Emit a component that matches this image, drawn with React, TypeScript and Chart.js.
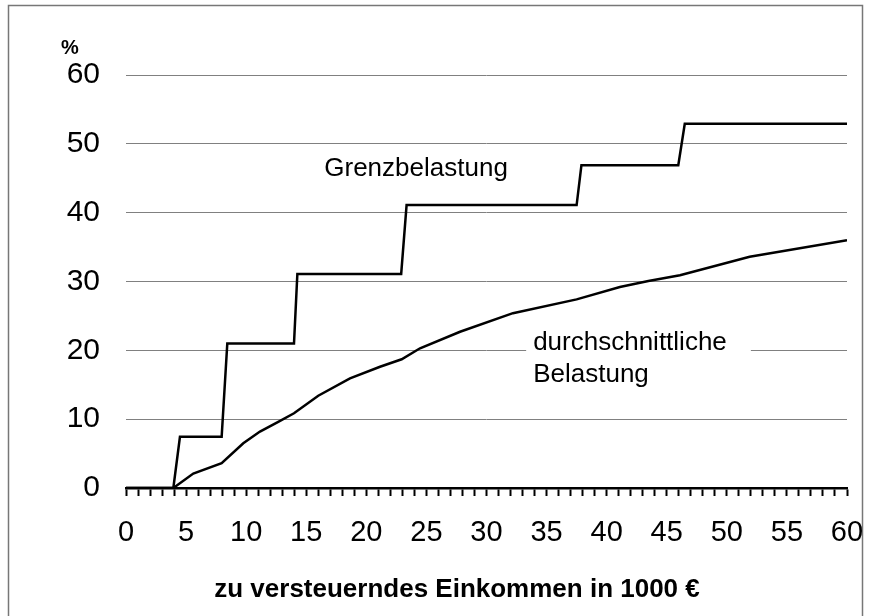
import React, { useEffect, useRef } from "react";
import { Chart, registerables } from "chart.js";

Chart.register(...registerables);

// Marginal tax rate (Grenzbelastung), income in 1000 €
const marginalX = [0, 3.94, 4.49, 7.96, 8.43, 13.98, 14.26, 22.9, 23.35, 37.5, 37.9, 45.96, 46.5, 60];
const marginalY = [0, 0, 7.45, 7.45, 21.0, 21.0, 31.1, 31.1, 41.1, 41.1, 46.9, 46.9, 52.9, 52.9];

// Average tax rate (durchschnittliche Belastung)
const averageX = [0, 3.94, 5.6, 7.96, 9.76, 11.15, 12.67, 13.98, 16, 18.64, 21.14, 22.94, 24.47, 27.8, 32.2, 37.5, 41.1, 43.47, 46.1, 51.9, 60];
const averageY = [0, 0, 2.1, 3.6, 6.5, 8.2, 9.6, 10.85, 13.4, 15.93, 17.62, 18.7, 20.3, 22.7, 25.4, 27.4, 29.2, 30.07, 30.9, 33.6, 36.0];

const xMin = 0;
const xMax = 60;
const yMin = 0;
const yMax = 60;
const yStep = 10;
const xLabelStep = 5;

const xTitle = "zu versteuerndes Einkommen in 1000 €";
const yUnit = "%";
const labelMarginal = "Grenzbelastung";
const labelAverage = ["durchschnittliche", "Belastung"];

const FONT = "'Liberation Sans', Arial, sans-serif";

const framePlugin = {
  id: "frame",
  beforeDraw(chart: any) {
    const ctx = chart.ctx;
    ctx.save();
    ctx.strokeStyle = "#777777";
    ctx.lineWidth = 1.5;
    ctx.beginPath();
    ctx.moveTo(8.5, 700);
    ctx.lineTo(8.5, 5.5);
    ctx.lineTo(862.5, 5.5);
    ctx.lineTo(862.5, 700);
    ctx.stroke();
    ctx.restore();
  },
};

const annotationPlugin = {
  id: "annotations",
  afterDraw(chart: any) {
    const ctx = chart.ctx;
    const xs = chart.scales.x;
    const ys = chart.scales.y;
    ctx.save();
    ctx.fillStyle = "#000";
    ctx.textBaseline = "alphabetic";

    // % unit
    ctx.font = `bold 20px ${FONT}`;
    ctx.textAlign = "center";
    ctx.fillText(yUnit, 70, 54);

    // Grenzbelastung
    ctx.font = `26px ${FONT}`;
    ctx.textAlign = "left";
    ctx.fillText(labelMarginal, xs.getPixelForValue(16.5), ys.getPixelForValue(45.3));

    // durchschnittliche Belastung with white box
    const bx1 = xs.getPixelForValue(33.3);
    const bx2 = xs.getPixelForValue(52.0);
    const by1 = ys.getPixelForValue(23.0);
    const by2 = ys.getPixelForValue(14.5);
    ctx.fillStyle = "#fff";
    ctx.fillRect(bx1, by1, bx2 - bx1, by2 - by1);
    ctx.fillStyle = "#000";
    const tx = bx1 + 7;
    const base = ys.getPixelForValue(20.0);
    ctx.fillText(labelAverage[0], tx, base);
    ctx.fillText(labelAverage[1], tx, base + 32);

    // x title
    ctx.font = `bold 26px ${FONT}`;
    ctx.textAlign = "center";
    ctx.fillText(xTitle, 457, 597);
    ctx.restore();
  },
};

export default function App() {
  const ref = useRef<HTMLCanvasElement>(null);

  useEffect(() => {
    if (!ref.current) return;
    const chart = new Chart(ref.current, {
      type: "line",
      data: {
        datasets: [
          {
            label: labelMarginal,
            data: marginalX.map((x, i) => ({ x, y: marginalY[i] })),
            borderColor: "#000",
            borderWidth: 2.5,
            pointRadius: 0,
            tension: 0,
            fill: false,
          },
          {
            label: labelAverage.join(" "),
            data: averageX.map((x, i) => ({ x, y: averageY[i] })),
            borderColor: "#000",
            borderWidth: 2.5,
            pointRadius: 0,
            tension: 0,
            fill: false,
          },
        ],
      },
      options: {
        animation: false,
        responsive: false,
        layout: { padding: { left: 0, top: 75, right: 25, bottom: 0 } },
        plugins: {
          legend: { display: false },
          tooltip: { enabled: false },
        },
        scales: {
          x: {
            type: "linear",
            min: xMin,
            max: xMax,
            afterFit(scale: any) {
              scale.height = 128;
              scale.paddingLeft = 0;
              scale.paddingRight = 0;
            },
            afterBuildTicks(scale: any) {
              const t = [];
              for (let v = xMin; v <= xMax; v++) t.push({ value: v });
              scale.ticks = t;
            },
            ticks: {
              autoSkip: false,
              maxRotation: 0,
              minRotation: 0,
              padding: 20,
              color: "#000",
              font: { family: FONT, size: 29 },
              callback: (v: any) => (Number(v) % xLabelStep === 0 ? String(v) : ""),
            },
            grid: {
              drawOnChartArea: false,
              drawTicks: true,
              tickLength: 8,
              tickColor: "#000",
              tickWidth: 2,
            },
            border: { display: true, color: "#000", width: 2.5 },
          },
          y: {
            type: "linear",
            min: yMin,
            max: yMax,
            afterFit(scale: any) {
              scale.width = 126;
              scale.paddingTop = 0;
              scale.paddingBottom = 0;
            },
            ticks: {
              stepSize: yStep,
              padding: 26,
              color: "#000",
              font: { family: FONT, size: 30 },
            },
            grid: {
              drawTicks: false,
              color: (c: any) => (c.tick && c.tick.value === 0 ? "rgba(0,0,0,0)" : "#808080"),
              lineWidth: 1,
            },
            border: { display: false },
          },
        },
      },
      plugins: [framePlugin, annotationPlugin],
    });
    return () => chart.destroy();
  }, []);

  return (
    <div style={{ position: "fixed", left: 0, top: 0, width: 872, height: 616, background: "#fff" }}>
      <canvas ref={ref} width={872} height={616} style={{ width: 872, height: 616, display: "block" }} />
    </div>
  );
}
